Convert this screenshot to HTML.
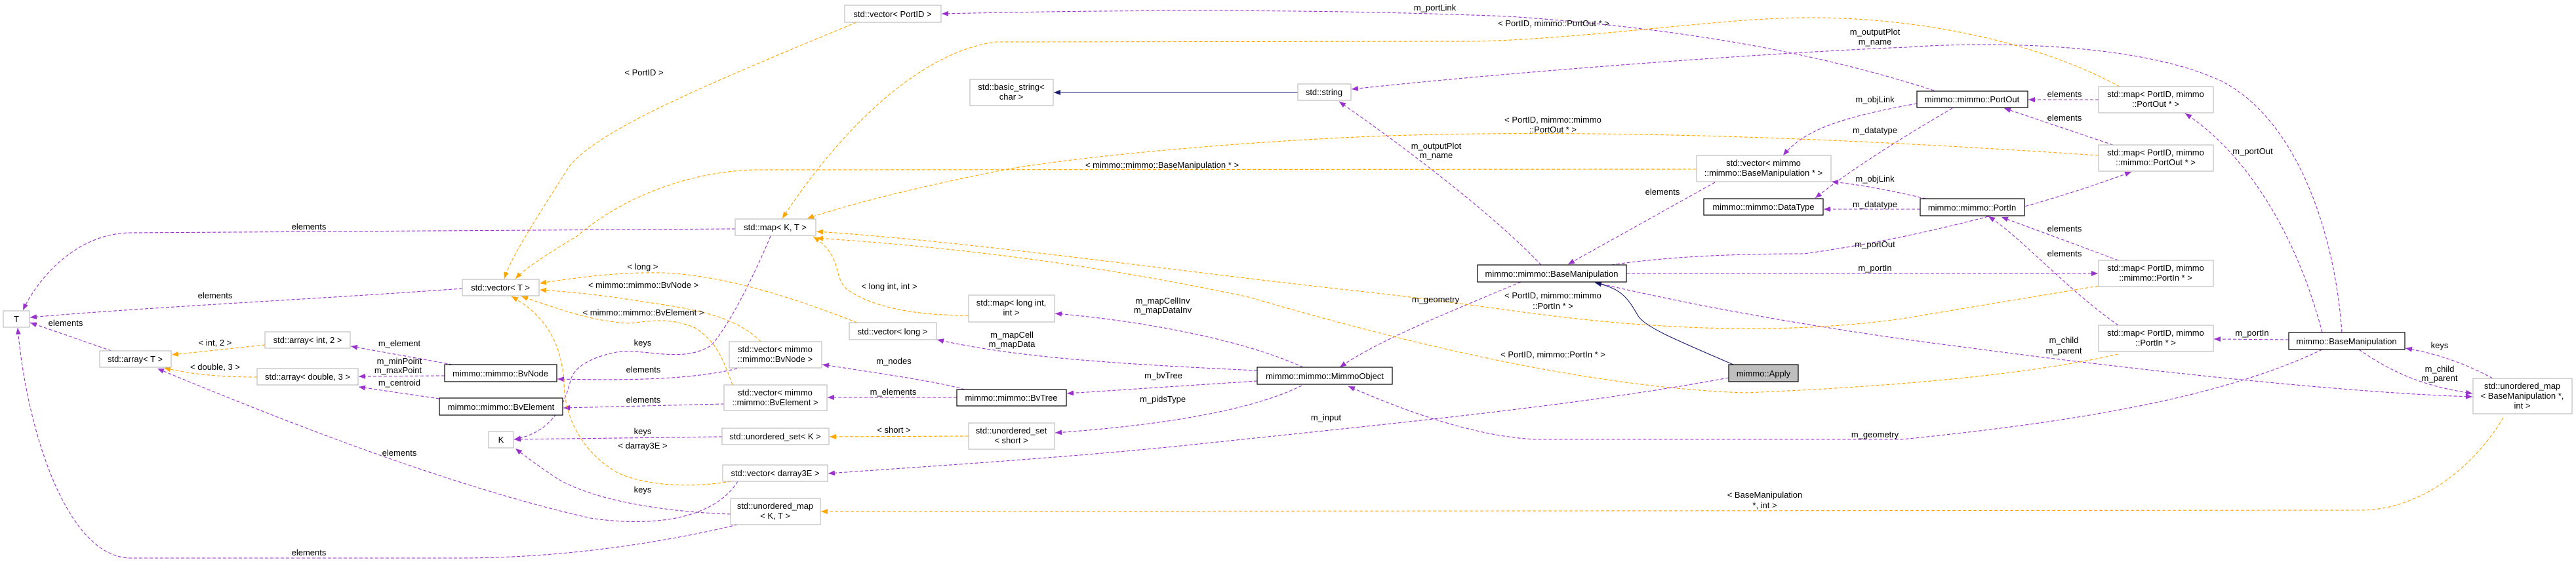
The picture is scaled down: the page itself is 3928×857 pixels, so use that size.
<!DOCTYPE html>
<html><head><meta charset="utf-8"><style>
html,body{margin:0;padding:0;background:#fff;}
svg{display:block;}
text{font-family:"Liberation Sans",Arial,sans-serif;font-size:13px;fill:#000;}
.p{fill:none;stroke:#9a32cd;stroke-width:1.1;stroke-dasharray:5,3;}
.o{fill:none;stroke:#ffa500;stroke-width:1.1;stroke-dasharray:5,3;}
.n{fill:none;stroke:#191970;stroke-width:1.1;}
.bg{fill:#fff;stroke:#bfbfbf;stroke-width:1.2;}
.bk{fill:#fff;stroke:#000;stroke-width:1.2;}
</style></head><body>
<svg width="3928" height="857" viewBox="0 0 3928 857" xmlns="http://www.w3.org/2000/svg">
<defs>
<marker id="ap" markerUnits="userSpaceOnUse" markerWidth="11" markerHeight="8" refX="10" refY="4" orient="auto"><path d="M0,0 L10,4 L0,8 z" fill="#9a32cd"/></marker>
<marker id="ao" markerUnits="userSpaceOnUse" markerWidth="11" markerHeight="8" refX="10" refY="4" orient="auto"><path d="M0,0 L10,4 L0,8 z" fill="#ffa500"/></marker>
<marker id="an" markerUnits="userSpaceOnUse" markerWidth="11" markerHeight="8" refX="10" refY="4" orient="auto"><path d="M0,0 L10,4 L0,8 z" fill="#191970"/></marker>
</defs>

<!-- purple edges -->
<g marker-end="url(#ap)">
<path class="p" d="M1121,349 L200,355 C120,355 60,420 35,473"/>
<path class="p" d="M705,440 C500,455 200,470 46,484"/>
<path class="p" d="M170,535 L46,492"/>
<path class="p" d="M690,556 L535,528"/>
<path class="p" d="M678,573 L547,574"/>
<path class="p" d="M670,608 L547,590"/>
<path class="p" d="M1125,734 C1090,790 1000,805 900,790 C700,745 450,650 240,562"/>
<path class="p" d="M1125,800 C1000,830 850,851 700,851 L200,851 C100,851 40,650 27,500"/>
<path class="p" d="M1175,360 C1150,420 1110,500 1084,527 C1040,555 980,530 940,537 C900,545 875,560 870,580 C860,620 840,660 784,670"/>
<path class="p" d="M1124,562 C1050,580 950,580 850,578"/>
<path class="p" d="M1104,616 L859,622"/>
<path class="p" d="M1101,666 L784,670"/>
<path class="p" d="M1114,784 C1000,780 900,760 850,730 C820,710 800,695 786,684"/>
<path class="p" d="M1987,560 C1900,520 1750,490 1609,478"/>
<path class="p" d="M1917,565 C1700,555 1550,545 1429,518"/>
<path class="p" d="M1917,581 L1627,600"/>
<path class="p" d="M1985,588 C1900,630 1750,650 1609,660"/>
<path class="p" d="M1459,606 L1262,606"/>
<path class="p" d="M1471,594 C1440,585 1400,578 1254,556"/>
<path class="p" d="M2636,576 C2400,620 2100,648 1800,680 C1600,700 1400,712 1263,722"/>
<path class="p" d="M2319,430 C2200,480 2100,520 2043,560"/>
<path class="p" d="M3541,533 C3400,600 3200,640 2900,670 L2340,670 C2250,665 2150,630 2056,589"/>
<path class="p" d="M2350,404 C2280,330 2150,230 2042,155"/>
<path class="p" d="M3571,507 C3560,350 3500,180 3386,123 C3250,60 3000,65 2908,72 C2700,80 2300,110 2061,136"/>
<path class="p" d="M2949,138 C2800,90 2600,45 2300,25 C2000,13 1700,15 1436,21"/>
<path class="p" d="M2923,158 C2800,180 2750,200 2719,237"/>
<path class="p" d="M2977,165 C2900,210 2820,260 2768,302"/>
<path class="p" d="M3200,152 L3093,152"/>
<path class="p" d="M3222,221 L3056,165"/>
<path class="p" d="M2457,404 C2550,390 2661,387 2750,387 C2950,360 3150,300 3250,262"/>
<path class="p" d="M2480,417 L3199,417"/>
<path class="p" d="M2928,319 L2781,319"/>
<path class="p" d="M2937,303 C2880,290 2840,282 2793,277"/>
<path class="p" d="M2615,278 C2540,320 2450,370 2391,403"/>
<path class="p" d="M3230,397 L3052,331"/>
<path class="p" d="M3230,496 C3150,440 3080,360 3032,330"/>
<path class="p" d="M2442,433 C2600,470 2800,505 3000,530 C3300,570 3600,600 3770,605"/>
<path class="p" d="M3597,533 C3650,570 3700,590 3770,600"/>
<path class="p" d="M3801,577 C3760,555 3720,540 3668,531"/>
<path class="p" d="M3490,518 L3376,517"/>
<path class="p" d="M3541,507 C3500,350 3420,230 3332,173"/>
</g>

<!-- orange edges -->
<g marker-end="url(#ao)">
<path class="o" d="M404,526 L262,541"/>
<path class="o" d="M392,575 C330,575 290,570 250,561"/>
<path class="o" d="M1306,34 C1100,120 900,200 864,260 C820,330 780,390 769,425"/>
<path class="o" d="M2587,258 L1150,259 C1050,262 950,300 880,360 C830,390 800,410 786,425"/>
<path class="o" d="M3232,132 C3100,60 2900,20 2714,28 C2600,32 2400,60 2249,63 L1518,64 C1400,80 1280,200 1193,333"/>
<path class="o" d="M3200,237 C2900,217 2500,195 2117,207 C1900,215 1650,238 1536,258 C1400,285 1300,310 1231,333"/>
<path class="o" d="M3200,436 L2900,486 C2800,500 2700,503 2600,500 C2400,493 2300,470 2100,447 C1800,415 1500,370 1245,353"/>
<path class="o" d="M3230,540 C3100,570 2900,589 2661,599 C2400,590 2100,510 1904,453 C1700,410 1500,380 1245,363"/>
<path class="o" d="M1477,481 C1400,481 1330,470 1290,440 C1270,420 1285,390 1240,361"/>
<path class="o" d="M1307,492 C1200,450 1100,420 1012,416 C950,415 900,420 823,432"/>
<path class="o" d="M1160,521 C1120,480 1050,470 980,460 C920,450 870,445 823,442"/>
<path class="o" d="M1117,587 C1100,540 1090,520 1060,500 C1020,483 990,490 960,493 C900,490 850,470 795,452"/>
<path class="o" d="M1115,734 C1050,745 980,740 940,720 C890,690 860,640 860,580 C855,520 830,480 780,452"/>
<path class="o" d="M1477,665 L1265,666"/>
<path class="o" d="M3817,637 C3780,700 3700,778 3599,778 L1252,780"/>
</g>

<!-- navy -->
<g marker-end="url(#an)">
<path class="n" d="M2643,556 C2560,520 2510,500 2498,482 C2480,450 2470,440 2432,431"/>
<path class="n" d="M1979,141 L1607,141"/>
</g>

<!-- boxes -->
<rect class="bg" x="5" y="474" width="40" height="25"/>
<rect class="bg" x="152" y="535" width="109" height="25"/>
<rect class="bg" x="404" y="506" width="130" height="25"/>
<rect class="bg" x="392" y="562" width="154" height="25"/>
<rect class="bk" x="678" y="556" width="171" height="26"/>
<rect class="bk" x="670" y="607" width="188" height="26"/>
<rect class="bg" x="745" y="658" width="38" height="25"/>
<rect class="bg" x="705" y="426" width="117" height="25"/>
<rect class="bg" x="1121" y="334" width="123" height="25"/>
<rect class="bg" x="1112" y="521" width="141" height="40"/>
<rect class="bg" x="1104" y="587" width="157" height="39"/>
<rect class="bg" x="1101" y="653" width="163" height="25"/>
<rect class="bg" x="1102" y="709" width="160" height="25"/>
<rect class="bg" x="1114" y="760" width="137" height="40"/>
<rect class="bg" x="1295" y="492" width="133" height="26"/>
<rect class="bg" x="1477" y="450" width="131" height="41"/>
<rect class="bk" x="1459" y="594" width="167" height="25"/>
<rect class="bg" x="1477" y="645" width="131" height="40"/>
<rect class="bk" x="1917" y="560" width="206" height="26"/>
<rect class="bg" x="1288" y="8" width="147" height="26"/>
<rect class="bg" x="1479" y="121" width="127" height="40"/>
<rect class="bg" x="1979" y="128" width="81" height="25"/>
<rect class="bk" x="2253" y="404" width="227" height="26"/>
<rect x="2636" y="556" width="106" height="26" fill="#bfbfbf" stroke="#000" stroke-width="1.2"/>
<rect class="bk" x="2598" y="303" width="182" height="25"/>
<rect class="bg" x="2587" y="237" width="205" height="40"/>
<rect class="bk" x="2923" y="139" width="169" height="25"/>
<rect class="bk" x="2928" y="303" width="159" height="26"/>
<rect class="bg" x="3200" y="132" width="175" height="40"/>
<rect class="bg" x="3200" y="221" width="175" height="40"/>
<rect class="bg" x="3200" y="397" width="175" height="40"/>
<rect class="bg" x="3200" y="496" width="175" height="40"/>
<rect class="bk" x="3490" y="507" width="177" height="26"/>
<rect class="bg" x="3771" y="577" width="151" height="54"/>

<!-- box text -->
<g text-anchor="middle">
<text x="25" y="491">T</text>
<text x="206" y="552">std::array&lt; T &gt;</text>
<text x="469" y="523">std::array&lt; int, 2 &gt;</text>
<text x="469" y="579">std::array&lt; double, 3 &gt;</text>
<text x="763" y="574">mimmo::mimmo::BvNode</text>
<text x="764" y="625">mimmo::mimmo::BvElement</text>
<text x="764" y="675">K</text>
<text x="763" y="443">std::vector&lt; T &gt;</text>
<text x="1182" y="351">std::map&lt; K, T &gt;</text>
<text x="1182" y="537">std::vector&lt; mimmo</text>
<text x="1182" y="552">::mimmo::BvNode &gt;</text>
<text x="1182" y="603">std::vector&lt; mimmo</text>
<text x="1182" y="618">::mimmo::BvElement &gt;</text>
<text x="1182" y="670">std::unordered_set&lt; K &gt;</text>
<text x="1182" y="726">std::vector&lt; darray3E &gt;</text>
<text x="1182" y="776">std::unordered_map</text>
<text x="1182" y="791">&lt; K, T &gt;</text>
<text x="1361" y="510">std::vector&lt; long &gt;</text>
<text x="1542" y="466">std::map&lt; long int,</text>
<text x="1542" y="481">int &gt;</text>
<text x="1542" y="611">mimmo::mimmo::BvTree</text>
<text x="1542" y="661">std::unordered_set</text>
<text x="1542" y="676">&lt; short &gt;</text>
<text x="2020" y="578">mimmo::mimmo::MimmoObject</text>
<text x="1361" y="26">std::vector&lt; PortID &gt;</text>
<text x="1542" y="137">std::basic_string&lt;</text>
<text x="1542" y="152">char &gt;</text>
<text x="2019" y="145">std::string</text>
<text x="2366" y="422">mimmo::mimmo::BaseManipulation</text>
<text x="2689" y="574">mimmo::Apply</text>
<text x="2689" y="320">mimmo::mimmo::DataType</text>
<text x="2689" y="253">std::vector&lt; mimmo</text>
<text x="2689" y="268">::mimmo::BaseManipulation * &gt;</text>
<text x="3007" y="156">mimmo::mimmo::PortOut</text>
<text x="3007" y="321">mimmo::mimmo::PortIn</text>
<text x="3287" y="148">std::map&lt; PortID, mimmo</text>
<text x="3287" y="163">::PortOut * &gt;</text>
<text x="3287" y="237">std::map&lt; PortID, mimmo</text>
<text x="3287" y="252">::mimmo::PortOut * &gt;</text>
<text x="3287" y="413">std::map&lt; PortID, mimmo</text>
<text x="3287" y="428">::mimmo::PortIn * &gt;</text>
<text x="3287" y="512">std::map&lt; PortID, mimmo</text>
<text x="3287" y="527">::PortIn * &gt;</text>
<text x="3578" y="525">mimmo::BaseManipulation</text>
<text x="3846" y="593">std::unordered_map</text>
<text x="3846" y="608">&lt; BaseManipulation *,</text>
<text x="3846" y="623">int &gt;</text>
</g>

<!-- edge labels -->
<g text-anchor="middle">
<text x="471" y="350">elements</text>
<text x="328" y="455">elements</text>
<text x="100" y="497">elements</text>
<text x="609" y="695">elements</text>
<text x="471" y="847">elements</text>
<text x="328" y="527">&lt; int, 2 &gt;</text>
<text x="328" y="564">&lt; double, 3 &gt;</text>
<text x="609" y="528">m_element</text>
<text x="609" y="555">m_minPoint</text>
<text x="607" y="569">m_maxPoint</text>
<text x="609" y="588">m_centroid</text>
<text x="980" y="411">&lt; long &gt;</text>
<text x="981" y="439">&lt; mimmo::mimmo::BvNode &gt;</text>
<text x="981" y="481">&lt; mimmo::mimmo::BvElement &gt;</text>
<text x="980" y="527">keys</text>
<text x="981" y="568">elements</text>
<text x="981" y="614">elements</text>
<text x="980" y="662">keys</text>
<text x="980" y="684">&lt; darray3E &gt;</text>
<text x="980" y="751">keys</text>
<text x="1356" y="441">&lt; long int, int &gt;</text>
<text x="1363" y="555">m_nodes</text>
<text x="1362" y="602">m_elements</text>
<text x="1363" y="660">&lt; short &gt;</text>
<text x="1773" y="463">m_mapCellInv</text>
<text x="1773" y="477">m_mapDataInv</text>
<text x="1543" y="515">m_mapCell</text>
<text x="1543" y="529">m_mapData</text>
<text x="1774" y="577">m_bvTree</text>
<text x="1773" y="613">m_pidsType</text>
<text x="2022" y="641">m_input</text>
<text x="982" y="115">&lt; PortID &gt;</text>
<text x="2188" y="16">m_portLink</text>
<text x="2369" y="40">&lt; PortID, mimmo::PortOut * &gt;</text>
<text x="2190" y="227">m_outputPlot</text>
<text x="2190" y="241">m_name</text>
<text x="2368" y="187">&lt; PortID, mimmo::mimmo</text>
<text x="2368" y="202">::PortOut * &gt;</text>
<text x="1772" y="256">&lt; mimmo::mimmo::BaseManipulation * &gt;</text>
<text x="2535" y="297">elements</text>
<text x="2859" y="316">m_datatype</text>
<text x="2859" y="377">m_portOut</text>
<text x="2859" y="413">m_portIn</text>
<text x="2189" y="461">m_geometry</text>
<text x="2368" y="455">&lt; PortID, mimmo::mimmo</text>
<text x="2368" y="471">::PortIn * &gt;</text>
<text x="2368" y="545">&lt; PortID, mimmo::PortIn * &gt;</text>
<text x="2859" y="667">m_geometry</text>
<text x="2691" y="759">&lt; BaseManipulation</text>
<text x="2691" y="775">*, int &gt;</text>
<text x="2859" y="53">m_outputPlot</text>
<text x="2859" y="68">m_name</text>
<text x="2859" y="156">m_objLink</text>
<text x="3148" y="148">elements</text>
<text x="3148" y="184">elements</text>
<text x="2859" y="203">m_datatype</text>
<text x="2859" y="277">m_objLink</text>
<text x="3435" y="235">m_portOut</text>
<text x="3148" y="353">elements</text>
<text x="3148" y="391">elements</text>
<text x="3147" y="523">m_child</text>
<text x="3147" y="539">m_parent</text>
<text x="3434" y="512">m_portIn</text>
<text x="3720" y="531">keys</text>
<text x="3720" y="567">m_child</text>
<text x="3720" y="581">m_parent</text>
</g>
</svg>
</body></html>
